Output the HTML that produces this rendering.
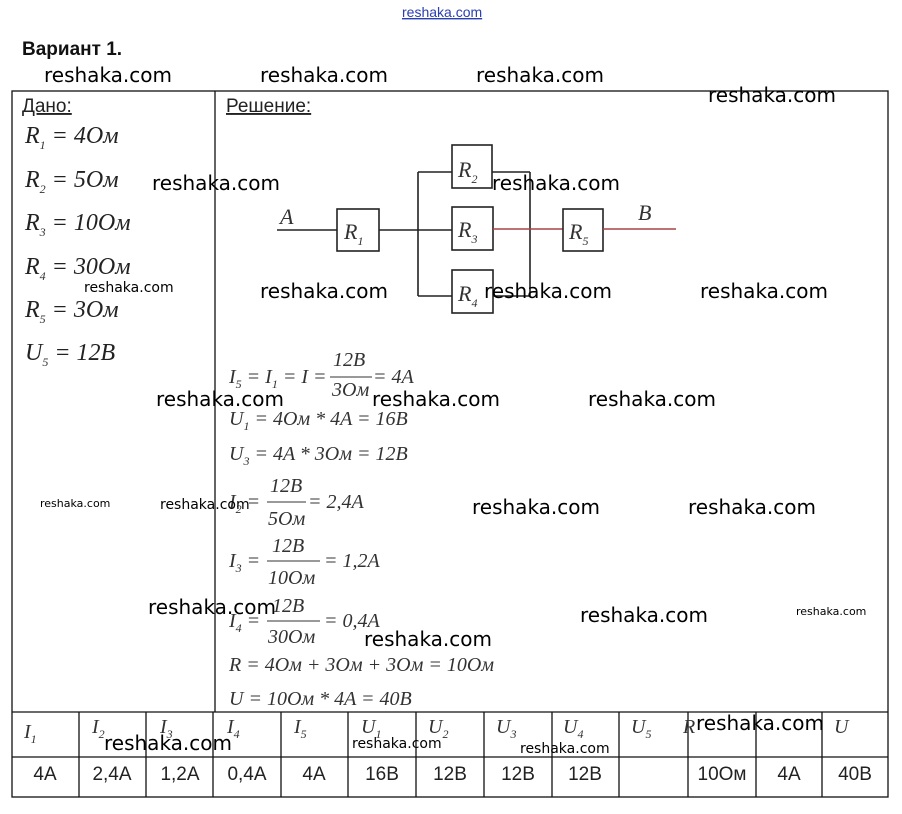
<!DOCTYPE html>
<html><head><meta charset="utf-8">
<style>
html,body{margin:0;padding:0;background:#fff;}
svg{display:block;}
.w{font-family:"DejaVu Sans","Liberation Sans",sans-serif;font-size:20px;fill:#000;}
.ws{font-family:"DejaVu Sans","Liberation Sans",sans-serif;font-size:11px;fill:#000;}
.wm{font-family:"DejaVu Sans","Liberation Sans",sans-serif;font-size:14px;fill:#000;}
.m{font-family:"Liberation Serif",serif;font-style:italic;font-size:24px;fill:#222;}
.f{font-family:"Liberation Serif",serif;font-style:italic;font-size:20px;fill:#333;}
.s{font-family:"Liberation Serif",serif;font-size:12px;fill:#333;}
.h{font-family:"Liberation Serif",serif;font-style:italic;font-size:22px;fill:#333;}
.v{font-family:"Liberation Sans",sans-serif;font-size:19px;fill:#222;}
.lb{font-family:"Liberation Sans",sans-serif;font-size:19px;fill:#222;}
</style></head><body>
<svg width="902" height="814" viewBox="0 0 902 814" xmlns="http://www.w3.org/2000/svg">
<text x="402" y="17" font-family="Liberation Sans,sans-serif" font-size="14" fill="#2a3fb0" text-decoration="underline">reshaka.com</text>
<text x="22" y="55" font-family="Liberation Sans,sans-serif" font-size="19" font-weight="bold" fill="#111">Вариант 1.</text>
<g stroke="#111" stroke-width="1.3" fill="none">
<rect x="12" y="91" width="876" height="706"/>
<line x1="215" y1="91" x2="215" y2="712"/>
<line x1="12" y1="712" x2="888" y2="712"/>
<line x1="12" y1="757" x2="888" y2="757"/>
<line x1="79" y1="712" x2="79" y2="797"/><line x1="146" y1="712" x2="146" y2="797"/>
<line x1="213" y1="712" x2="213" y2="797"/><line x1="281" y1="712" x2="281" y2="797"/>
<line x1="348" y1="712" x2="348" y2="797"/><line x1="416" y1="712" x2="416" y2="797"/>
<line x1="484" y1="712" x2="484" y2="797"/><line x1="552" y1="712" x2="552" y2="797"/>
<line x1="619" y1="712" x2="619" y2="797"/><line x1="688" y1="712" x2="688" y2="797"/>
<line x1="756" y1="712" x2="756" y2="797"/><line x1="822" y1="712" x2="822" y2="797"/>
</g>
<text x="22" y="112" class="lb" text-decoration="underline">Дано:</text>
<text x="226" y="112" class="lb" text-decoration="underline">Решение:</text>
<g class="m">
<text x="25" y="143">R<tspan class="s" dy="6">1</tspan><tspan dy="-6"> = 4Ом</tspan></text>
<text x="25" y="187">R<tspan class="s" dy="6">2</tspan><tspan dy="-6"> = 5Ом</tspan></text>
<text x="25" y="230">R<tspan class="s" dy="6">3</tspan><tspan dy="-6"> = 10Ом</tspan></text>
<text x="25" y="274">R<tspan class="s" dy="6">4</tspan><tspan dy="-6"> = 30Ом</tspan></text>
<text x="25" y="317">R<tspan class="s" dy="6">5</tspan><tspan dy="-6"> = 3Ом</tspan></text>
<text x="25" y="360">U<tspan class="s" dy="6">5</tspan><tspan dy="-6"> = 12В</tspan></text>
</g>
<g stroke="#222" stroke-width="1.6" fill="none">
<line x1="277" y1="230" x2="337" y2="230"/>
<rect x="337" y="209" width="42" height="42"/>
<line x1="379" y1="230" x2="452" y2="230"/>
<line x1="418" y1="172" x2="418" y2="296"/>
<line x1="418" y1="172" x2="452" y2="172"/>
<line x1="418" y1="296" x2="452" y2="296"/>
<rect x="452" y="145" width="40" height="43"/>
<rect x="452" y="207" width="41" height="43"/>
<rect x="452" y="270" width="41" height="43"/>
<line x1="492" y1="172" x2="530" y2="172"/>
<line x1="493" y1="296" x2="530" y2="296"/>
<line x1="530" y1="172" x2="530" y2="296"/>
<line x1="493" y1="229" x2="563" y2="229" stroke="#a44"/>
<rect x="563" y="209" width="40" height="42"/>
<line x1="603" y1="229" x2="676" y2="229" stroke="#a44"/>
</g>
<g class="h">
<text x="280" y="224">A</text>
<text x="638" y="220">B</text>
<text x="344" y="239">R<tspan class="s" dy="6">1</tspan></text>
<text x="458" y="177">R<tspan class="s" dy="6">2</tspan></text>
<text x="458" y="237">R<tspan class="s" dy="6">3</tspan></text>
<text x="458" y="301">R<tspan class="s" dy="6">4</tspan></text>
<text x="569" y="239">R<tspan class="s" dy="6">5</tspan></text>
</g>
<g class="f" stroke="none">
<text x="229" y="383">I<tspan class="s" dy="5">5</tspan><tspan dy="-5"> = I</tspan><tspan class="s" dy="5">1</tspan><tspan dy="-5"> = I =</tspan></text>
<text x="333" y="366">12В</text><text x="332" y="396">3Ом</text>
<text x="373" y="383">= 4A</text>
<text x="229" y="425">U<tspan class="s" dy="5">1</tspan><tspan dy="-5"> = 4Ом * 4A = 16В</tspan></text>
<text x="229" y="460">U<tspan class="s" dy="5">3</tspan><tspan dy="-5"> = 4A * 3Ом = 12В</tspan></text>
<text x="229" y="508">I<tspan class="s" dy="5">2</tspan><tspan dy="-5"> =</tspan></text>
<text x="270" y="492">12В</text><text x="268" y="525">5Ом</text>
<text x="308" y="508">= 2,4A</text>
<text x="229" y="567">I<tspan class="s" dy="5">3</tspan><tspan dy="-5"> =</tspan></text>
<text x="272" y="552">12В</text><text x="268" y="584">10Ом</text>
<text x="324" y="567">= 1,2A</text>
<text x="229" y="627">I<tspan class="s" dy="5">4</tspan><tspan dy="-5"> =</tspan></text>
<text x="272" y="612">12В</text><text x="268" y="643">30Ом</text>
<text x="324" y="627">= 0,4A</text>
<text x="229" y="671">R = 4Ом + 3Ом + 3Ом = 10Ом</text>
<text x="229" y="705">U = 10Ом * 4A = 40В</text>
</g>
<g stroke="#333" stroke-width="1">
<line x1="330" y1="377" x2="372" y2="377"/>
<line x1="267" y1="502" x2="306" y2="502"/>
<line x1="267" y1="561" x2="320" y2="561"/>
<line x1="267" y1="621" x2="320" y2="621"/>
</g>
<g class="f">
<text x="24" y="738">I<tspan class="s" dy="5">1</tspan></text>
<text x="92" y="733">I<tspan class="s" dy="5">2</tspan></text>
<text x="160" y="733">I<tspan class="s" dy="5">3</tspan></text>
<text x="227" y="733">I<tspan class="s" dy="5">4</tspan></text>
<text x="294" y="733">I<tspan class="s" dy="5">5</tspan></text>
<text x="361" y="733">U<tspan class="s" dy="5">1</tspan></text>
<text x="428" y="733">U<tspan class="s" dy="5">2</tspan></text>
<text x="496" y="733">U<tspan class="s" dy="5">3</tspan></text>
<text x="563" y="733">U<tspan class="s" dy="5">4</tspan></text>
<text x="631" y="733">U<tspan class="s" dy="5">5</tspan></text>
<text x="683" y="733">R</text>
<text x="834" y="733">U</text>
</g>
<g class="v" text-anchor="middle">
<text x="45" y="780">4A</text><text x="112" y="780">2,4A</text><text x="180" y="780">1,2A</text>
<text x="247" y="780">0,4A</text><text x="314" y="780">4A</text><text x="382" y="780">16В</text>
<text x="450" y="780">12В</text><text x="518" y="780">12В</text><text x="585" y="780">12В</text>
<text x="722" y="780">10Ом</text><text x="789" y="780">4A</text><text x="855" y="780">40В</text>
</g>
<g class="w">
<text x="44" y="82">reshaka.com</text><text x="260" y="82">reshaka.com</text><text x="476" y="82">reshaka.com</text>
<text x="708" y="102">reshaka.com</text>
<text x="152" y="190">reshaka.com</text><text x="492" y="190">reshaka.com</text>
<text x="260" y="298">reshaka.com</text><text x="484" y="298">reshaka.com</text><text x="700" y="298">reshaka.com</text>
<text x="156" y="406">reshaka.com</text><text x="372" y="406">reshaka.com</text><text x="588" y="406">reshaka.com</text>
<text x="472" y="514">reshaka.com</text><text x="688" y="514">reshaka.com</text>
<text x="148" y="614">reshaka.com</text><text x="580" y="622">reshaka.com</text>
<text x="364" y="646">reshaka.com</text>
<text x="696" y="730">reshaka.com</text>
<text x="104" y="750">reshaka.com</text>
</g>
<text x="84" y="292" class="wm">reshaka.com</text>
<text x="160" y="509" class="wm">reshaka.com</text>
<text x="352" y="748" class="wm">reshaka.com</text>
<text x="520" y="753" class="wm">reshaka.com</text>
<text x="40" y="507" class="ws">reshaka.com</text>
<text x="796" y="615" class="ws">reshaka.com</text>
</svg>
</body></html>
